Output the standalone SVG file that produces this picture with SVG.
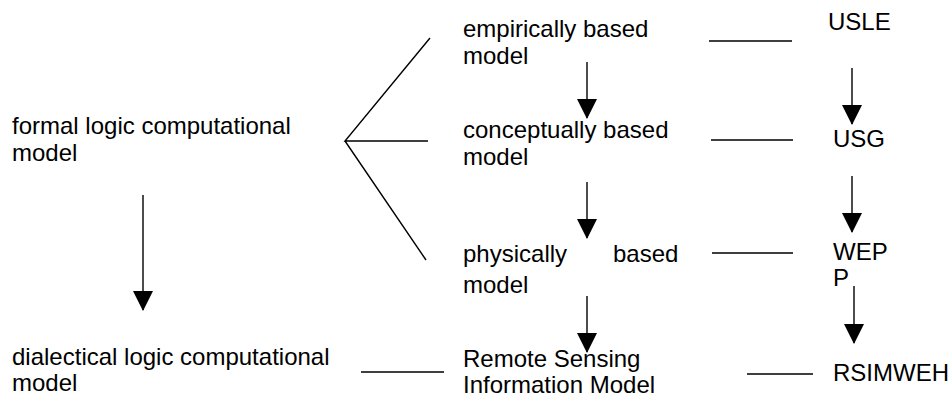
<svg xmlns="http://www.w3.org/2000/svg" width="951" height="400" viewBox="0 0 951 400">
<style>
text{font-family:"Liberation Sans",Arial,sans-serif;font-size:24px;fill:#000}
.ln{stroke:#000;stroke-width:1.4;fill:none}
.ar{stroke:#000;stroke-width:1.4;fill:none;marker-end:url(#ah)}
</style>
<defs>
<marker id="ah" markerUnits="userSpaceOnUse" markerWidth="20" markerHeight="20" viewBox="0 0 20 20" refX="19" refY="10" orient="auto">
<path d="M0,0 L20,10 L0,20 Z" fill="#000"/>
</marker>
</defs>
<rect width="951" height="400" fill="#fff"/>
<g id="formal"><text x="12" y="134">formal logic computational</text><text x="12" y="161">model</text></g>
<g id="dialectical"><text x="12" y="365">dialectical logic computational</text><text x="12" y="391">model</text></g>
<g id="empirical"><text x="463" y="37">empirically based</text><text x="463" y="64">model</text></g>
<g id="conceptual"><text x="463" y="138">conceptually based</text><text x="463" y="165">model</text></g>
<g id="physical"><text x="463" y="262">physically</text><text x="613" y="262">based</text><text x="463" y="293">model</text></g>
<g id="rsim"><text x="463" y="367">Remote Sensing</text><text x="463" y="393">Information Model</text></g>
<g id="usle"><text x="828" y="30">USLE</text></g>
<g id="usg"><text x="833" y="147">USG</text></g>
<g id="wepp"><text x="833" y="260">WEP</text><text x="833" y="286">P</text></g>
<g id="rsimweh"><text x="833" y="381">RSIMWEH</text></g>
<g id="connectors">
<path class="ln" d="M430,38 L345,141 L428,141 M345,141 L426,260"/>
<path class="ln" d="M709,41 H792 M711,140 H793 M712,253 H793 M747,374 H813 M361,372 H444"/>
<path class="ar" d="M143,195 V310"/>
<path class="ar" d="M587,62 V118"/>
<path class="ar" d="M587,182 V238"/>
<path class="ar" d="M587,296 V352"/>
<path class="ar" d="M852,68 V124"/>
<path class="ar" d="M852,176 V232"/>
<path class="ar" d="M854,286 V343"/>
</g>
</svg>
